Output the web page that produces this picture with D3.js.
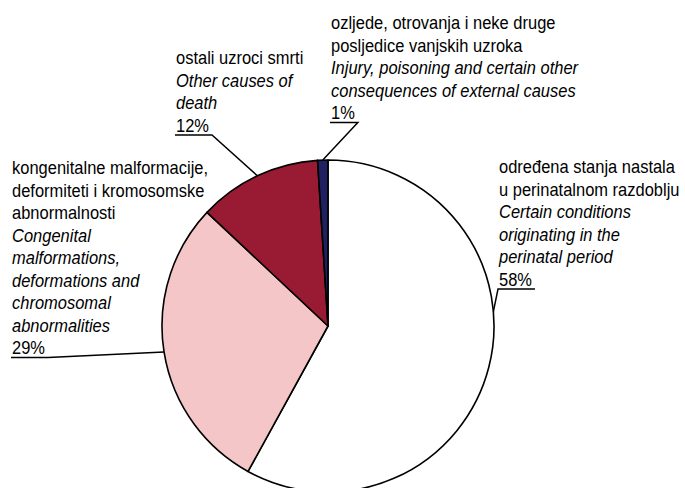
<!DOCTYPE html>
<html>
<head>
<meta charset="utf-8" />
<title>Pie</title>
<style type="text/css">
  html, body { margin: 0; background: #fff; }
  text { font-family: "Liberation Sans", Arial, sans-serif; font-size: 16.5px; fill: #000; }
</style>
</head>
<body>
<div id="container"></div>
<script src="https://cdn.jsdelivr.net/npm/d3@7"></script>
<script>
// data
var categories = ["perinatal", "congenital", "other", "injury"];
var values = [58, 29, 12, 1];
var colors = ["#ffffff", "#f4c6c8", "#991b33", "#1f2160"];

// label texts: [croatian lines, english lines]
var hrLines = [
  ["određena stanja nastala", "u perinatalnom razdoblju"],
  ["kongenitalne malformacije,", "deformiteti i kromosomske", "abnormalnosti"],
  ["ostali uzroci smrti"],
  ["ozljede, otrovanja i neke druge", "posljedice vanjskih uzroka"]
];
var enLines = [
  ["Certain conditions", "originating in the", "perinatal period"],
  ["Congenital", "malformations,", "deformations and", "chromosomal", "abnormalities"],
  ["Other causes of", "death"],
  ["Injury, poisoning and certain other", "consequences of external causes"]
];

// label placement (x, first baseline), where the leader bends, and leader angle (deg, null = mid)
var labelPos = [[499, 173], [12, 174], [176, 64], [331, 29]];
var bendSide = ["left", "right", "right", "right"];
var leaderDeg = [85, null, null, null];

var width = 685, height = 488;
var cx = 328, cy = 326, r = 166;
var lineH = 22.5;

var svg = d3.select("#container").append("svg")
    .attr("width", width)
    .attr("height", height);

var pie = d3.pie().sort(null).value(function(d) { return d; });
var arcs = pie(values);
var arc = d3.arc().innerRadius(0).outerRadius(r);

var g = svg.append("g").attr("transform", "translate(" + cx + "," + cy + ")");
g.selectAll("path")
  .data(arcs)
  .enter().append("path")
    .attr("d", arc)
    .attr("fill", function(d, i) { return colors[i]; })
    .attr("stroke", "#000")
    .attr("stroke-width", 1.6)
    .attr("stroke-linejoin", "round");

var labels = svg.append("g");

arcs.forEach(function(a, i) {
  var lines = [];
  hrLines[i].forEach(function(t) { lines.push({t: t, it: false}); });
  enLines[i].forEach(function(t) { lines.push({t: t, it: true}); });
  lines.push({t: values[i] + "%", it: false, pct: true});

  var x = labelPos[i][0], y0 = labelPos[i][1];
  var pctNode;
  lines.forEach(function(l, k) {
    var t = labels.append("text")
      .attr("transform", "translate(" + x + "," + (y0 + k * lineH) + ") scale(1,1.12)")
      .style("font-style", l.it ? "italic" : "normal")
      .text(l.t);
    if (l.pct) pctNode = t.node();
  });

  // leader line: underline under the percent, then to the pie edge
  var bb = pctNode.getBBox();
  var uy = y0 + (lines.length - 1) * lineH + 3.5;
  var ux0 = x - 1, ux1 = x + bb.width + 3;
  var ang = leaderDeg[i] != null ? leaderDeg[i] * Math.PI / 180 : (a.startAngle + a.endAngle) / 2;
  var px = cx + r * Math.sin(ang), py = cy - r * Math.cos(ang);
  var pts = bendSide[i] == "left" ? [[ux1, uy], [ux0, uy], [px, py]] : [[ux0, uy], [ux1, uy], [px, py]];
  labels.append("path")
    .attr("d", d3.line()(pts))
    .attr("fill", "none")
    .attr("stroke", "#000")
    .attr("stroke-width", 1.5);
});
</script>
</body>
</html>
